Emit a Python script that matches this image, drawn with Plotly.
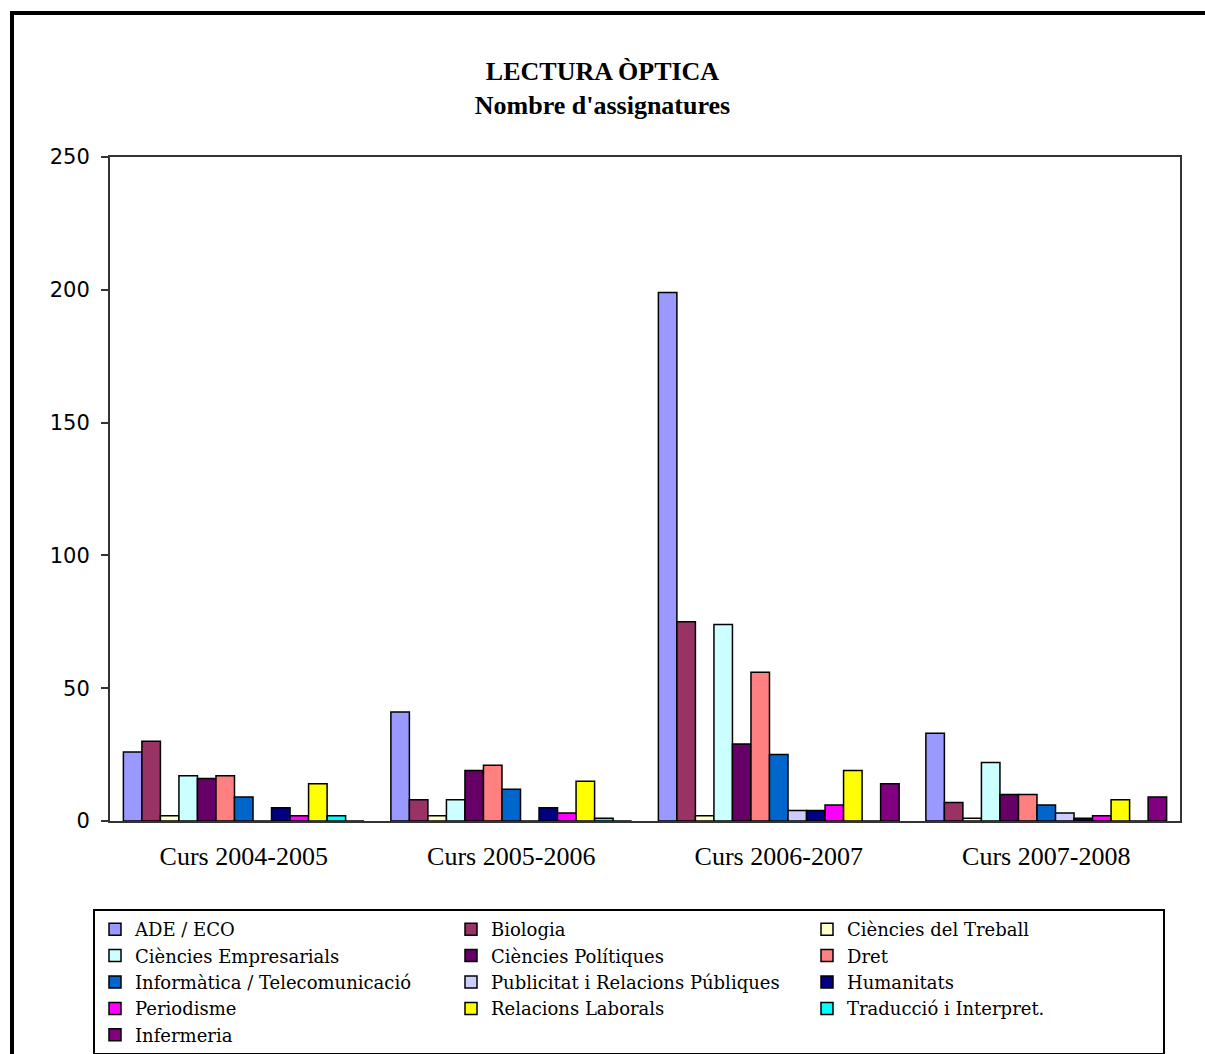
import plotly.graph_objects as go

categories = ["Curs 2004-2005", "Curs 2005-2006", "Curs 2006-2007", "Curs 2007-2008"]

series_names = [
    "ADE / ECO", "Biologia", "Ciències del Treball",
    "Ciències Empresarials", "Ciències Polítiques", "Dret",
    "Informàtica / Telecomunicació", "Publicitat i Relacions Públiques", "Humanitats",
    "Periodisme", "Relacions Laborals", "Traducció i Interpret.",
    "Infermeria",
]

ade = [26, 41, 199, 33]
biologia = [30, 8, 75, 7]
cien_treball = [2, 2, 2, 1]
cien_empresarials = [17, 8, 74, 22]
cien_politiques = [16, 19, 29, 10]
dret = [17, 21, 56, 10]
informatica = [9, 12, 25, 6]
publicitat = [0, 0, 4, 3]
humanitats = [5, 5, 4, 1]
periodisme = [2, 3, 6, 2]
relacions_laborals = [14, 15, 19, 8]
traduccio = [2, 1, 0, 0]
infermeria = [0, 0, 14, 9]

series_values = [ade, biologia, cien_treball, cien_empresarials, cien_politiques, dret,
                 informatica, publicitat, humanitats, periodisme, relacions_laborals,
                 traduccio, infermeria]

colors = ["#9999FF", "#993366", "#FFFFCC", "#CCFFFF", "#660066", "#FF8080",
          "#0066CC", "#CCCCFF", "#000080", "#FF00FF", "#FFFF00", "#00FFFF", "#800080"]

y_ticks = [0, 50, 100, 150, 200, 250]

fig = go.Figure()
for name, vals, col in zip(series_names, series_values, colors):
    fig.add_trace(go.Bar(
        name=name, x=categories, y=vals,
        marker=dict(color=col, line=dict(color="black", width=1.5)),
    ))

W, H = 1205, 1054
fig.update_layout(
    width=W, height=H,
    barmode="group", bargap=0.1, bargroupgap=0,
    paper_bgcolor="white", plot_bgcolor="white",
    margin=dict(l=110, r=25, t=157, b=233, autoexpand=False),
    title=dict(
        text="<b>LECTURA ÒPTICA<br>Nombre d'assignatures</b>",
        x=0.5, xref="container", xanchor="center",
        y=1 - 80 / H, yref="container", yanchor="middle",
        font=dict(family="Liberation Serif", size=26, color="black"),
    ),
    legend=dict(
        orientation="h",
        xref="container", yref="container",
        x=93 / W, xanchor="left",
        y=1 - 909 / H, yanchor="top",
        entrywidth=311, entrywidthmode="pixels",
        bordercolor="black", borderwidth=2,
        bgcolor="white",
        font=dict(family="DejaVu Serif", size=18, color="black"),
        traceorder="normal",
        itemclick=False,
    ),
    showlegend=True,
    font=dict(family="DejaVu Sans", color="black"),
)

fig.update_xaxes(
    showline=True, linecolor="#333333", linewidth=2, mirror=True,
    ticks="", ticklabelstandoff=11,
    tickfont=dict(family="Liberation Serif", size=26, color="black"),
    showgrid=False,
)
fig.update_yaxes(
    range=[0, 250], tickvals=y_ticks,
    showline=True, linecolor="#333333", linewidth=2, mirror=True,
    ticks="outside", ticklen=7, tickcolor="#333333", tickwidth=2,
    ticklabelstandoff=7,
    tickfont=dict(family="DejaVu Sans", size=21, color="black"),
    showgrid=False, zeroline=False,
)

fig.add_shape(type="rect", xref="paper", yref="paper",
              x0=-98 / 1070, x1=1 + 40 / 1070,
              y0=-245 / 664, y1=1 + 144 / 664,
              line=dict(color="black", width=4), layer="above")

fig.write_html("out.html", config={"displayModeBar": False},
               post_script="document.body.style.margin='0px';")
